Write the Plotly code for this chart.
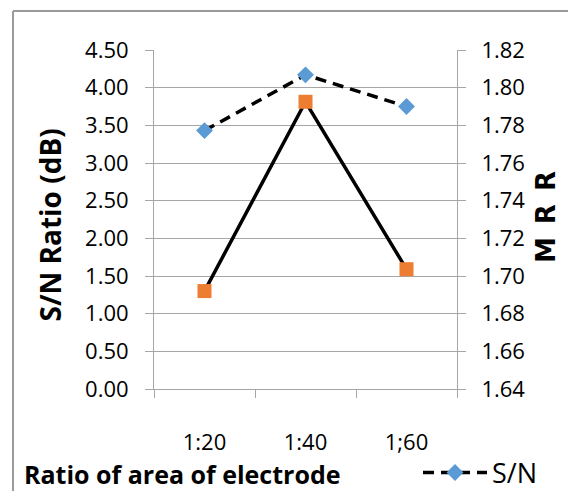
import plotly.graph_objects as go

categories = ["1:20", "1:40", "1;60"]
sn_values = [3.43, 4.17, 3.75]
mrr_values = [1.692, 1.7925, 1.7036]
left_ticks = [0, 0.5, 1.0, 1.5, 2.0, 2.5, 3.0, 3.5, 4.0, 4.5]
right_ticks = [1.64, 1.66, 1.68, 1.70, 1.72, 1.74, 1.76, 1.78, 1.80, 1.82]

# page body has an 8px margin: figure is sized to fill the remaining window
OFF = 8
W, H = 576 - OFF, 491 - OFF
# plot area in page pixels
L, R, T, B = 154, 457, 50, 389


def px(x):
    return (x - L) / (R - L)


def py(y):
    return (B - y) / (B - T)


FONT = "Open Sans"
GRID = "#a6a6a6"

fig = go.Figure()
# category holder for the bottom axis (no visible marks)
fig.add_trace(go.Scatter(
    x=categories, y=[None] * len(categories), xaxis="x", yaxis="y",
    mode="markers", showlegend=False, hoverinfo="skip",
))
fig.add_trace(go.Scatter(
    x=categories, y=mrr_values, xaxis="x", yaxis="y2", name="MRR",
    mode="lines+markers", showlegend=False,
    line=dict(color="black", width=3.5),
    marker=dict(symbol="square", size=14, color="#ED7D31"),
))
fig.add_trace(go.Scatter(
    x=categories, y=sn_values, xaxis="x", yaxis="y", name="S/N",
    mode="lines+markers",
    line=dict(color="black", width=3.5, dash="11px,7px"),
    marker=dict(symbol="diamond", size=13, color="#5B9BD5"),
))

fig.update_layout(
    width=W, height=H, autosize=False,
    margin=dict(l=L - OFF, r=576 - R, t=T - OFF, b=491 - B, pad=0, autoexpand=False),
    paper_bgcolor="white", plot_bgcolor="white",
    font=dict(family=FONT, size=22, color="black"),
    xaxis=dict(
        type="category", categoryorder="array", categoryarray=categories,
        range=[-0.5, 2.5], showgrid=False, showline=True, linecolor=GRID, linewidth=1,
        ticks="outside", tickson="boundaries", ticklen=8, tickcolor=GRID,
        ticklabelstandoff=34, tickfont=dict(size=22), zeroline=False,
    ),
    yaxis=dict(
        range=[0, 4.5], tickvals=left_ticks, tickformat=".2f",
        showgrid=True, gridcolor=GRID, gridwidth=1, showline=True, linecolor=GRID,
        ticks="outside", ticklen=8, tickcolor=GRID, zeroline=False,
        tickfont=dict(size=22), ticklabelstandoff=12,
    ),
    yaxis2=dict(
        range=[1.64, 1.82], tickvals=right_ticks, tickformat=".2f",
        overlaying="y", side="right", anchor="x",
        showgrid=False, showline=True, linecolor=GRID,
        ticks="outside", ticklen=8, tickcolor=GRID, zeroline=False,
        tickfont=dict(size=22), ticklabelstandoff=11,
    ),
    legend=dict(
        x=px(418), y=py(473), xanchor="left", yanchor="middle",
        font=dict(size=27), itemwidth=64, bgcolor="rgba(0,0,0,0)",
        tracegroupgap=0,
    ),
    annotations=[
        dict(text="<b>S/N Ratio (dB)</b>", x=px(49.5), y=py(225), xref="paper", yref="paper",
             textangle=-90, showarrow=False, font=dict(size=28, family=FONT),
             xanchor="center", yanchor="middle"),
        dict(text="<b>Ratio of area of electrode</b>", x=px(22), y=py(474), xref="paper", yref="paper",
             showarrow=False, font=dict(size=25, family=FONT),
             xanchor="left", yanchor="middle"),
        dict(text="<b>M\u2002R\u2002R</b>", x=px(546), y=py(217), xref="paper", yref="paper",
             textangle=-90, showarrow=False, font=dict(size=26, family="DejaVu Sans"),
             xanchor="center", yanchor="middle"),
    ],
    shapes=[
        dict(type="line", xref="paper", yref="paper", x0=px(13), x1=px(13), y0=py(11), y1=py(500),
             line=dict(color="#9a9a9a", width=2)),
        dict(type="line", xref="paper", yref="paper", x0=px(13), x1=px(590), y0=py(11), y1=py(11),
             line=dict(color="#9a9a9a", width=2)),
    ],
)

fig.write_html("out.html")
